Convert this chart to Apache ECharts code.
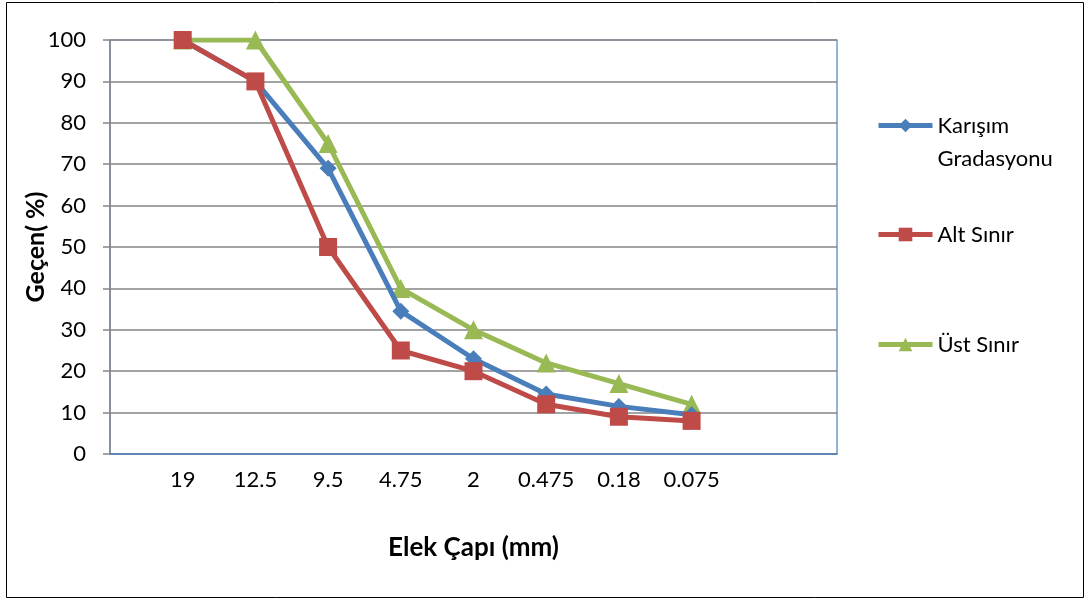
<!DOCTYPE html>
<html><head><meta charset="utf-8">
<script src="https://cdn.jsdelivr.net/npm/echarts@6/dist/echarts.min.js"></script>
<style>html,body{margin:0;padding:0;background:#fff}#c{width:1087px;height:603px}</style>
</head><body><div id="c"></div>
<script>
var categories = ['', '19', '12.5', '9.5', '4.75', '2', '0.475', '0.18', '0.075', '', ''];
var karisim = [null, 100, 90, 69, 34.5, 23, 14.5, 11.5, 9.5, null, null];
var altSinir = [null, 100, 90, 50, 25, 20, 12, 9, 8, null, null];
var ustSinir = [null, 100, 100, 75, 40, 30, 22, 17, 12, null, null];
var yTicks = {min: 0, max: 100, interval: 10};
var names = ['Karışım Gradasyonu', 'Alt Sınır', 'Üst Sınır'];

var FONT = 'Lato';
var chart = echarts.init(document.getElementById('c'));
function leg(name, top) {
  return {
    data: [name], orient: 'vertical', left: 871, top: top,
    itemWidth: 54, itemHeight: 17, itemGap: 0,
    lineStyle: {width: 5},
    formatter: function (n) { return n === names[0] ? '\u00a0\nKarışım\nGradasyonu' : n; },
    textStyle: {fontFamily: FONT, fontSize: 22, color: '#000', lineHeight: 33},
    selectedMode: false
  };
}
chart.setOption({
  animation: false,
  textStyle: {fontFamily: FONT},
  graphic: [{type: 'rect', shape: {x: 6.5, y: 2.5, width: 1077, height: 595}, style: {fill: 'none', stroke: '#000', lineWidth: 1}, silent: true}],
  grid: {left: 110, top: 40, width: 727, height: 414, show: true, borderColor: '#4f81bd', borderWidth: 1.2, backgroundColor: 'transparent'},
  legend: [leg(names[0], 71), leg(names[1], 213), leg(names[2], 323)],
  xAxis: {
    type: 'category', data: categories, boundaryGap: false,
    name: 'Elek Çapı (mm)', nameLocation: 'middle', nameGap: 81,
    nameTextStyle: {fontFamily: FONT, fontSize: 26, fontWeight: 'bold', color: '#000'},
    axisLine: {lineStyle: {color: '#4f81bd', width: 1.5}},
    axisTick: {show: false},
    axisLabel: {color: '#000', fontSize: 22, margin: 15, interval: 0},
    splitLine: {show: false}
  },
  yAxis: {
    type: 'value', min: yTicks.min, max: yTicks.max, interval: yTicks.interval,
    name: 'Geçen( %)', nameLocation: 'middle', nameGap: 62, nameRotate: 90, nameMoveOverlap: false,
    nameTextStyle: {fontFamily: FONT, fontSize: 25, fontWeight: 'bold', color: '#000'},
    axisLine: {show: true, lineStyle: {color: '#868686', width: 1.5}},
    axisTick: {show: true, length: 7, lineStyle: {color: '#868686', width: 1.5}},
    axisLabel: {color: '#000', fontSize: 22, margin: 24},
    splitLine: {lineStyle: {color: '#858585', width: 1.5}}
  },
  series: [
    {name: names[0], type: 'line', data: karisim, symbol: 'diamond', symbolSize: 17,
     lineStyle: {color: '#4a7ebb', width: 5}, itemStyle: {color: '#4a7ebb'}, z: 3},
    {name: names[1], type: 'line', data: altSinir, symbol: 'rect', symbolSize: 18,
     lineStyle: {color: '#be4b48', width: 5}, itemStyle: {color: '#be4b48'}, z: 4},
    {name: names[2], type: 'line', data: ustSinir, symbol: 'triangle', symbolSize: 19,
     lineStyle: {color: '#98b954', width: 5}, itemStyle: {color: '#98b954'}, z: 2}
  ]
});
</script></body></html>
